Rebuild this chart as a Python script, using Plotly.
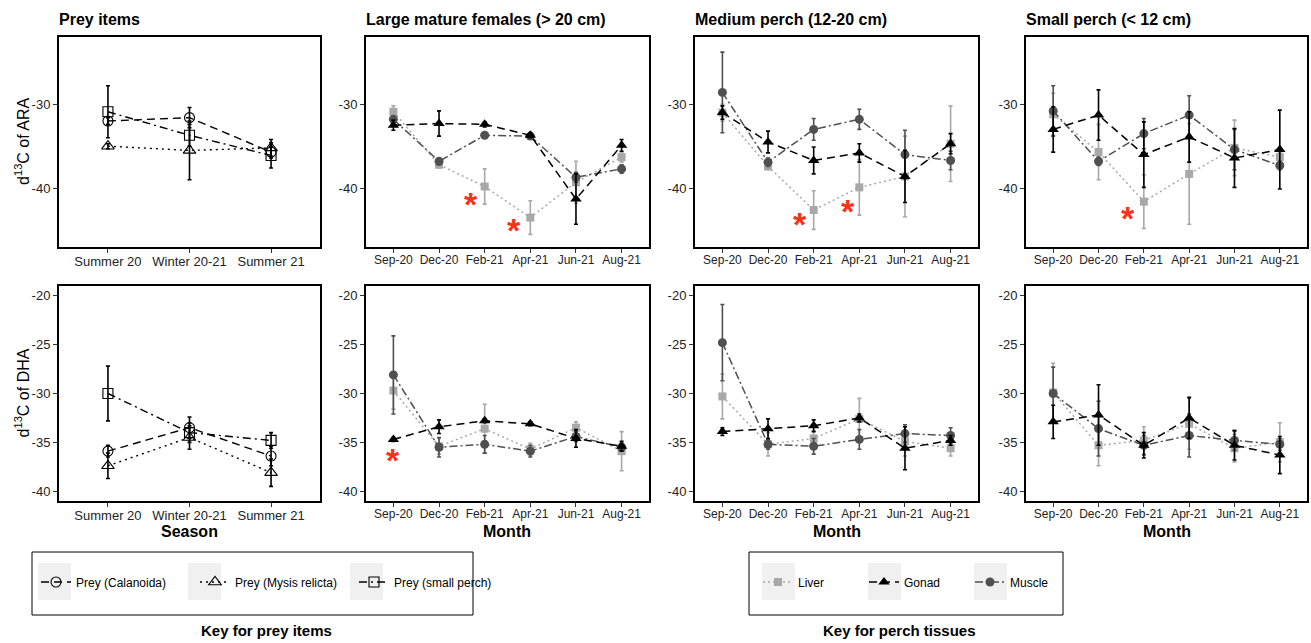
import plotly.graph_objects as go

W, H = 1311, 643
FONT = "Liberation Sans, Arial, Helvetica, sans-serif"

# ---------------- data ----------------
prey_seasons = ["Summer 20", "Winter 20-21", "Summer 21"]
months = ["Sep-20", "Dec-20", "Feb-21", "Apr-21", "Jun-21", "Aug-21"]
ara_ticks = [-40, -30]
ara_ticklabels = ["-40", "-30"]
dha_ticks = [-40, -35, -30, -25, -20]
dha_ticklabels = ["-40", "-35", "-30", "-25", "-20"]

# Prey items (mean, sd)
cal_ara = [-32.0, -31.6, -35.7]
cal_ara_sd = [0.4, 1.2, 0.7]
mys_ara = [-35.0, -35.5, -35.2]
mys_ara_sd = [0.3, 3.5, 1.0]
spr_ara = [-30.9, -33.7, -36.1]
spr_ara_sd = [3.1, 1.3, 1.5]

cal_dha = [-35.9, -33.5, -36.4]
cal_dha_sd = [0.6, 1.1, 1.0]
mys_dha = [-37.4, -34.5, -38.1]
mys_dha_sd = [1.3, 1.2, 1.4]
spr_dha = [-30.0, -34.0, -34.8]
spr_dha_sd = [2.8, 1.0, 0.8]

# Large mature females
large_ara_liver = [-30.9, -37.2, -39.8, -43.5, -39.3, -36.3]
large_ara_liver_sd = [0.7, 0.4, 2.1, 2.0, 2.5, 0.6]
large_ara_gonad = [-32.5, -32.3, -32.4, -33.7, -41.3, -34.9]
large_ara_gonad_sd = [0.6, 1.5, 0.3, 0.3, 3.0, 0.7]
large_ara_muscle = [-31.8, -36.8, -33.7, -33.8, -38.7, -37.7]
large_ara_muscle_sd = [0.4, 0.4, 0.3, 0.3, 0.6, 0.5]

large_dha_liver = [-29.7, -35.4, -33.6, -35.7, -33.5, -35.9]
large_dha_liver_sd = [1.9, 0.8, 2.5, 0.6, 0.6, 2.0]
large_dha_gonad = [-34.7, -33.4, -32.8, -33.1, -34.6, -35.4]
large_dha_gonad_sd = [0.2, 0.7, 0.2, 0.2, 0.9, 0.5]
large_dha_muscle = [-28.1, -35.5, -35.2, -35.9, -34.4, -35.5]
large_dha_muscle_sd = [4.0, 1.0, 0.9, 0.6, 0.5, 0.4]

# Medium perch
medium_ara_liver = [-31.0, -37.4, -42.6, -39.9, -38.6, -34.7]
medium_ara_liver_sd = [1.0, 0.4, 2.3, 3.3, 4.8, 4.5]
medium_ara_gonad = [-31.0, -34.5, -36.7, -35.8, -38.6, -34.7]
medium_ara_gonad_sd = [0.8, 1.3, 1.6, 1.1, 3.1, 1.2]
medium_ara_muscle = [-28.6, -36.9, -33.0, -31.8, -36.0, -36.7]
medium_ara_muscle_sd = [4.8, 0.5, 1.3, 1.2, 2.9, 1.1]

medium_dha_liver = [-30.3, -35.2, -34.6, -32.6, -34.9, -35.6]
medium_dha_liver_sd = [2.3, 1.2, 0.8, 2.1, 1.5, 0.8]
medium_dha_gonad = [-33.9, -33.6, -33.3, -32.5, -35.6, -34.8]
medium_dha_gonad_sd = [0.4, 1.0, 0.6, 0.4, 2.2, 0.5]
medium_dha_muscle = [-24.8, -35.2, -35.4, -34.7, -34.1, -34.3]
medium_dha_muscle_sd = [3.9, 0.5, 0.8, 1.0, 0.9, 0.8]

# Small perch
small_ara_liver = [-31.2, -35.7, -41.6, -38.3, -35.2, -36.3]
small_ara_liver_sd = [2.5, 3.3, 3.2, 6.0, 3.3, 0.6]
small_ara_gonad = [-33.0, -31.3, -36.0, -33.9, -36.4, -35.4]
small_ara_gonad_sd = [2.7, 3.0, 3.9, 3.0, 3.5, 4.7]
small_ara_muscle = [-30.8, -36.8, -33.5, -31.3, -35.4, -37.3]
small_ara_muscle_sd = [3.0, 0.5, 1.8, 2.3, 2.4, 0.5]

small_dha_liver = [-29.9, -35.3, -34.8, -33.1, -35.6, -35.0]
small_dha_liver_sd = [3.0, 2.1, 1.4, 2.6, 1.4, 2.0]
small_dha_gonad = [-32.9, -32.2, -35.3, -32.5, -35.3, -36.3]
small_dha_gonad_sd = [1.7, 3.1, 1.3, 2.1, 1.5, 1.9]
small_dha_muscle = [-30.0, -33.6, -35.3, -34.3, -34.8, -35.2]
small_dha_muscle_sd = [2.7, 2.8, 1.0, 2.2, 1.0, 0.6]

# significance asterisks: (panel column, row, x position in category units, y)
star_col = [1, 1, 2, 2, 3, 1]
star_row = [0, 0, 0, 0, 0, 1]
star_x = [1.7, 2.65, 1.7, 2.75, 1.65, 0.0]
star_y = [-41.4, -44.5, -43.8, -42.2, -43.1, -36.4]

panel_titles = ["Prey items", "Large mature females (> 20 cm)",
                "Medium perch (12-20 cm)", "Small perch (< 12 cm)"]

# ---------------- layout geometry (pixels) ----------------
x_px = [(59, 320), (366, 649), (695, 978), (1026, 1307)]
y_px = [(37, 247), (286, 501)]


def xd(a, b):
    return [a / W, b / W]


def yd(t, b):
    return [1 - b / H, 1 - t / H]


fig = go.Figure()

LIVER = "#A8A8A8"
GONAD = "#000000"
MUSCLE = "#505050"
DASH = "8px,5px"
DOT = "2px,3px"
DASHDOT = "8px,3px,2px,3px"


def ax(col, row):
    return col + 1 + 4 * row


def add_prey(row, series):
    i = ax(0, row)
    for name, vals, sd, sym, dash, size in series:
        fig.add_trace(go.Scatter(
            x=prey_seasons, y=vals, name=name,
            mode="lines+markers",
            line=dict(color="black", width=1.4, dash=dash),
            marker=dict(symbol=sym, size=size, color="black", line=dict(width=1.1, color="black")),
            error_y=dict(type="data", array=sd, color="black", thickness=1.6, width=2),
            xaxis=f"x{i}", yaxis=f"y{i}",
            legend="legend", showlegend=(row == 0),
        ))


add_prey(0, [("Prey (Calanoida)", cal_ara, cal_ara_sd, "circle-open", DASH, 10),
             ("Prey (Mysis relicta)", mys_ara, mys_ara_sd, "triangle-up-open", "2px,4px", 11),
             ("Prey (small perch)", spr_ara, spr_ara_sd, "square-open", "8px,4px,2px,4px", 10)])
add_prey(1, [("Prey (Calanoida)", cal_dha, cal_dha_sd, "circle-open", DASH, 10),
             ("Prey (Mysis relicta)", mys_dha, mys_dha_sd, "triangle-up-open", "2px,4px", 11),
             ("Prey (small perch)", spr_dha, spr_dha_sd, "square-open", "8px,4px,2px,4px", 10)])

perch = {
    (1, 0): (large_ara_liver, large_ara_liver_sd, large_ara_gonad, large_ara_gonad_sd, large_ara_muscle, large_ara_muscle_sd),
    (2, 0): (medium_ara_liver, medium_ara_liver_sd, medium_ara_gonad, medium_ara_gonad_sd, medium_ara_muscle, medium_ara_muscle_sd),
    (3, 0): (small_ara_liver, small_ara_liver_sd, small_ara_gonad, small_ara_gonad_sd, small_ara_muscle, small_ara_muscle_sd),
    (1, 1): (large_dha_liver, large_dha_liver_sd, large_dha_gonad, large_dha_gonad_sd, large_dha_muscle, large_dha_muscle_sd),
    (2, 1): (medium_dha_liver, medium_dha_liver_sd, medium_dha_gonad, medium_dha_gonad_sd, medium_dha_muscle, medium_dha_muscle_sd),
    (3, 1): (small_dha_liver, small_dha_liver_sd, small_dha_gonad, small_dha_gonad_sd, small_dha_muscle, small_dha_muscle_sd),
}

for (col, row), (lv, lvs, gn, gns, mu, mus) in perch.items():
    i = ax(col, row)
    first = (col == 1 and row == 0)
    specs = [
        ("Liver", lv, lvs, LIVER, "square", 8, DOT, 1),
        ("Muscle", mu, mus, MUSCLE, "circle", 9, DASHDOT, 3),
        ("Gonad", gn, gns, GONAD, "triangle-up", 10, DASH, 2),
    ]
    for name, vals, sd, c, sym, size, dash, rank in specs:
        fig.add_trace(go.Scatter(
            x=months, y=vals, name=name,
            mode="lines+markers",
            line=dict(color=c, width=1.5, dash=dash),
            marker=dict(symbol=sym, size=size, color=c),
            error_y=dict(type="data", array=sd, color=c, thickness=1.6, width=2),
            xaxis=f"x{i}", yaxis=f"y{i}",
            legend="legend2", showlegend=first, legendrank=rank,
        ))

# ---------------- axes ----------------
for row in range(2):
    for col in range(4):
        i = ax(col, row)
        cats = prey_seasons if col == 0 else months
        xa = dict(
            domain=xd(*x_px[col]), anchor=f"y{i}",
            type="category", categoryorder="array", categoryarray=cats,
            range=[-0.6, len(cats) - 0.4],
            showline=True, mirror=True, linecolor="black", linewidth=2,
            ticks="outside", ticklen=4, tickwidth=1, tickcolor="#333",
            ticklabelstandoff=-3,
            tickfont=dict(size=13 if col == 0 else 12, color="#222", family=FONT),
            showgrid=False, zeroline=False, fixedrange=True,
        )
        if row == 0:
            ya = dict(range=[-47, -22], tickvals=ara_ticks, ticktext=ara_ticklabels)
        else:
            ya = dict(range=[-41, -19], tickvals=dha_ticks, ticktext=dha_ticklabels)
        ya.update(
            domain=yd(*y_px[row]), anchor=f"x{i}", tickmode="array",
            showline=True, mirror=True, linecolor="black", linewidth=2,
            ticks="outside", ticklen=4, tickwidth=1, tickcolor="#333",
            tickfont=dict(size=13, color="#222", family=FONT),
            showgrid=False, zeroline=False, fixedrange=True,
        )
        fig.layout[f"xaxis{i}"] = xa
        fig.layout[f"yaxis{i}"] = ya

# ---------------- annotations ----------------
ann = []
for col, t in enumerate(panel_titles):
    ann.append(dict(text=f"<b>{t}</b>", x=(x_px[col][0] - 2) / W, y=1 - 20 / H,
                    xref="paper", yref="paper", xanchor="left", yanchor="middle",
                    showarrow=False, font=dict(size=16, color="black", family=FONT)))
for row, lab in enumerate(["ARA", "DHA"]):
    cy = (y_px[row][0] + y_px[row][1]) / 2
    ann.append(dict(text=f"d<sup>13</sup>C of {lab}", x=22 / W, y=1 - cy / H,
                    xref="paper", yref="paper", xanchor="center", yanchor="middle",
                    textangle=-90, showarrow=False,
                    font=dict(size=16, color="black", family=FONT)))
for col in range(4):
    cx = (x_px[col][0] + x_px[col][1]) / 2
    ann.append(dict(text="<b>Season</b>" if col == 0 else "<b>Month</b>",
                    x=cx / W, y=1 - 531 / H, xref="paper", yref="paper",
                    xanchor="center", yanchor="middle", showarrow=False,
                    font=dict(size=16, color="black", family=FONT)))
for c, r, sx, sy in zip(star_col, star_row, star_x, star_y):
    i = ax(c, r)
    ann.append(dict(text="<b>*</b>", x=sx, y=sy, xref=f"x{i}", yref=f"y{i}",
                    xanchor="center", yanchor="middle", yshift=-4, showarrow=False,
                    font=dict(size=34, color="#F5331B", family=FONT)))
ann.append(dict(text="<b>Key for prey items</b>", x=266 / W, y=1 - 630 / H,
                xref="paper", yref="paper", xanchor="center", yanchor="middle",
                showarrow=False, font=dict(size=15, color="black", family=FONT)))
ann.append(dict(text="<b>Key for perch tissues</b>", x=899 / W, y=1 - 630 / H,
                xref="paper", yref="paper", xanchor="center", yanchor="middle",
                showarrow=False, font=dict(size=15, color="black", family=FONT)))

# ---------------- legend frames & key backgrounds ----------------
shapes = []
for (a, b) in [(32, 473), (749, 1063)]:
    shapes.append(dict(type="rect", xref="paper", yref="paper",
                       x0=a / W, x1=b / W, y0=1 - 615 / H, y1=1 - 552 / H,
                       line=dict(color="black", width=1), fillcolor="white", layer="below"))
for kx in [38, 188, 350, 762, 868, 974]:
    shapes.append(dict(type="rect", xref="paper", yref="paper",
                       x0=kx / W, x1=(kx + 33) / W, y0=1 - 600 / H, y1=1 - 563 / H,
                       line=dict(width=0), fillcolor="#F0F0F0", layer="below"))

fig.update_layout(
    width=W, height=H,
    margin=dict(l=0, r=0, t=0, b=0),
    paper_bgcolor="white", plot_bgcolor="white",
    font=dict(family=FONT, color="black"),
    annotations=ann, shapes=shapes,
    legend=dict(x=36 / W, y=1 - 582 / H, xanchor="left", yanchor="middle",
                orientation="h", bgcolor="rgba(0,0,0,0)", borderwidth=0,
                font=dict(size=12, family=FONT, color="black"),
                entrywidth=114, entrywidthmode="pixels",
                traceorder="normal"),
    legend2=dict(x=758 / W, y=1 - 582 / H, xanchor="left", yanchor="middle",
                 orientation="h", bgcolor="rgba(0,0,0,0)", borderwidth=0,
                 font=dict(size=12, family=FONT, color="black"),
                 entrywidth=61, entrywidthmode="pixels"),
    showlegend=True,
)

fig.write_html("out.html", config={"displayModeBar": False},
               post_script="document.body.style.margin='0';document.body.style.padding='0';document.body.style.overflow='hidden';")
